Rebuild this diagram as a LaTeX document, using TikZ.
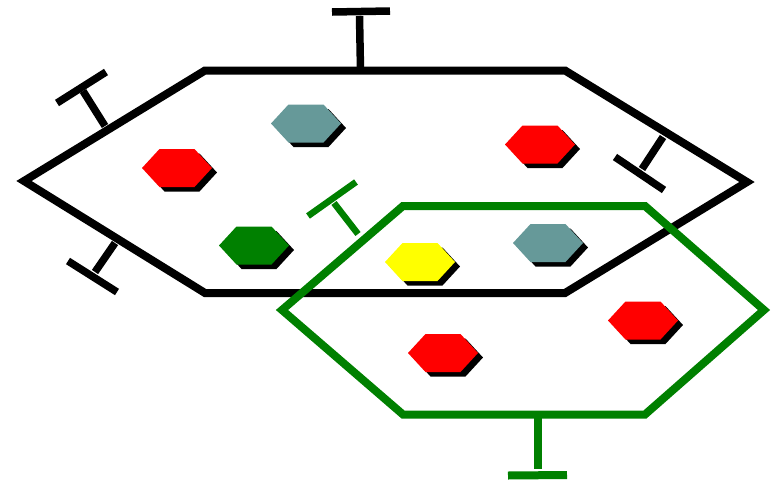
\documentclass[tikz,border=0pt]{standalone}
\definecolor{tealc}{RGB}{102,153,153}
\definecolor{grn}{RGB}{0,128,0}
\definecolor{redc}{RGB}{255,0,0}
\definecolor{yelc}{RGB}{255,255,0}
\tikzset{
  membrane/.style={line width=8pt, line join=miter},
  tbar/.style={line width=7.5pt, line cap=butt},
  pics/cell/.style={code={
    \fill[black] (-30,4.5) -- (-12.5,-14.5) -- (22.5,-14.5) -- (40,4.5) -- (22.5,23.5) -- (-12.5,23.5) -- cycle;
    \fill[#1] (-35,0) -- (-17.5,-19) -- (17.5,-19) -- (35,0) -- (17.5,19) -- (-17.5,19) -- cycle;
  }}
}
\begin{document}
\begin{tikzpicture}[x=1pt,y=-1pt]
\useasboundingbox (0,0) rectangle (772,483);
% black membrane
\draw[membrane,black] (24,181) coordinate (bL) -- (205,70.5) coordinate (bTL) -- (565,70.5) coordinate (bTR) -- (747,182) coordinate (bR) -- (565,293) coordinate (bBR) -- (205,293) coordinate (bBL) -- cycle;
% black T-bars
\draw[tbar,black] (360.5,70) -- (359.5,16);
\draw[tbar,black] (332,12) -- (390,11);
\draw[tbar,black] (105,126) -- (83,91);
\draw[tbar,black] (57,103) -- (106,72);
\draw[tbar,black] (115,243) -- (95,272);
\draw[tbar,black] (68,261) -- (117,292);
\draw[tbar,black] (663,137) -- (642,169);
\draw[tbar,black] (615,157) -- (664,190);
% green membrane
\draw[membrane,grn] (282,310) coordinate (gL) -- (403,206) coordinate (gTL) -- (645,206) coordinate (gTR) -- (764,310) coordinate (gR) -- (645,414.5) coordinate (gBR) -- (403,414.5) coordinate (gBL) -- cycle;
% green T-bars
\draw[tbar,grn,line width=6.5pt] (358,234) -- (334,203);
\draw[tbar,grn,line width=6.5pt] (308,216) -- (356,182);
\draw[tbar,grn,line width=8pt] (538.3,418) -- (538.3,469);
\draw[tbar,grn,line width=8pt] (508,475.5) -- (567,475);
% small cells
\pic at (177,168) {cell=redc};
\pic at (306,123.5) {cell=tealc};
\pic at (540,144.5) {cell=redc};
\pic at (254,245.5) {cell=grn};
\pic at (420,262) {cell=yelc};
\pic at (548,243) {cell=tealc};
\pic at (643,320.5) {cell=redc};
\pic at (443,353) {cell=redc};
\end{tikzpicture}
\end{document}
